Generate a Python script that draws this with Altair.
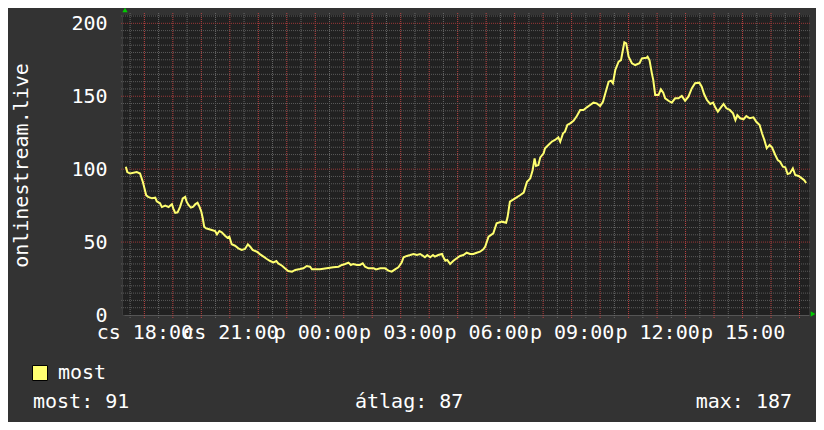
import altair as alt
import pandas as pd

# ---- data (Thu 2024-01-04 -> Fri 2024-01-05) ----
thu_times = ["17:21", "17:24", "17:30", "17:44", "17:51", "17:57", "18:04", "18:08", "18:16", "18:23",
             "18:26", "18:33", "18:37", "18:44", "18:51", "18:58", "19:01", "19:05", "19:10", "19:15",
             "19:21", "19:26", "19:29", "19:33", "19:38", "19:43", "19:47", "19:52", "19:56", "20:00",
             "20:03", "20:06", "20:10", "20:15", "20:22", "20:29", "20:33", "20:38", "20:43", "20:50",
             "20:55", "20:59", "21:04", "21:11", "21:18", "21:25", "21:32", "21:38", "21:43", "21:48",
             "21:57", "22:04", "22:11", "22:18", "22:25", "22:32", "22:38", "22:42", "22:50", "22:56",
             "23:03", "23:11", "23:18", "23:28", "23:35", "23:42", "23:49", "23:53"]
thu_values = [101.7, 98, 97, 98, 97, 91, 82, 81, 80, 80.4,
              78, 76.6, 74, 75, 74, 76, 73, 70, 70.4, 74,
              80, 81, 77.7, 75.4, 73.6, 74.3, 75.9, 77, 74.3, 70.8,
              66.3, 60.5, 59.4, 59, 58.3, 57.6, 55.3, 57.6, 56.7, 54.4,
              53, 53.7, 48.5, 47.5, 45.7, 44.6, 45.3, 48.5, 46.8, 44.6,
              43.4, 41.6, 40, 38.4, 37, 36.1, 37, 35.4, 33.8, 32,
              30.2, 29.7, 30.9, 31.5, 32, 33.6, 33.1, 31.3]

fri_times = ["00:10", "00:24", "00:38", "00:49", "00:56", "01:03", "01:10", "01:15", "01:20", "01:28",
             "01:34", "01:40", "01:45", "01:52", "02:03", "02:08", "02:17", "02:27", "02:34", "02:41",
             "02:48", "02:55", "03:02", "03:06", "03:13", "03:20", "03:27", "03:34", "03:41", "03:47",
             "03:51", "03:56", "04:02", "04:08", "04:12", "04:19", "04:27", "04:30", "04:34", "04:38",
             "04:44", "04:51", "04:58", "05:05", "05:12", "05:19", "05:26", "05:33", "05:40", "05:47",
             "05:54", "05:58", "06:05", "06:15", "06:22", "06:33", "06:42", "06:45", "06:50", "07:01",
             "07:12", "07:19", "07:26", "07:33", "07:38", "07:42", "07:45", "07:50", "07:54", "08:01",
             "08:04", "08:11", "08:18", "08:25", "08:32", "08:36", "08:42", "08:46", "08:51", "08:57",
             "09:04", "09:11", "09:18", "09:25", "09:32", "09:39", "09:46", "09:53", "10:00", "10:06",
             "10:11", "10:18", "10:23", "10:27", "10:32", "10:39", "10:44", "10:48", "10:51", "10:55",
             "11:00", "11:07", "11:14", "11:23", "11:28", "11:38", "11:40", "11:44", "11:49", "11:52",
             "11:56", "12:03", "12:08", "12:13", "12:17", "12:24", "12:31", "12:38", "12:45", "12:52",
             "12:59", "13:06", "13:13", "13:20", "13:29", "13:34", "13:39", "13:45", "13:52", "13:58",
             "14:02", "14:08", "14:13", "14:20", "14:26", "14:33", "14:40", "14:45", "14:49", "14:55",
             "15:02", "15:08", "15:15", "15:23", "15:29", "15:36", "15:41", "15:46", "15:51", "15:57",
             "16:02", "16:09", "16:14", "16:19", "16:25", "16:30", "16:35", "16:40", "16:46", "16:51",
             "16:58", "17:05", "17:10", "17:14"]
fri_values = [31.3, 32, 32.7, 33.1, 34.3, 35, 35.9, 34.3, 35, 34.3,
              34.3, 35.4, 33.1, 32, 32, 31.3, 32, 32, 30.4, 29.7,
              31.3, 32.7, 35.9, 39.6, 40.5, 41.1, 41.8, 41.1, 41.8, 40.5,
              39.6, 41.1, 39.6, 41.1, 40, 41.1, 41.8, 39.6, 37.2, 37.7,
              35, 37.2, 38.9, 40.5, 41.1, 42.7, 41.8, 41.8, 42.7, 43.4,
              45, 47, 53.7, 56, 62.9, 64, 63.3, 67, 77.7, 80,
              82.3, 83.9, 91.4, 93.7, 99.4, 107.4, 102.2, 102.8, 108.1, 110.9,
              114.3, 116.6, 118.8, 120, 121.8, 118.8, 124.6, 125.7, 130.3, 131.4,
              133.2, 136.4, 140.6, 140.6, 142.4, 144, 145.6, 145.1, 143.3, 146.2,
              152, 160, 160.7, 158.9, 168, 173.7, 174.8, 181.7, 187, 186.3,
              177.1, 172.6, 171.4, 172.6, 176, 176.4, 177.1, 174.8, 165.7, 161.1,
              150.8, 150.8, 154.7, 152.4, 148.6, 146.9, 145.6, 148.6, 148.6, 150.2,
              146.9, 149.7, 155.4, 158.9, 159.3, 156.5, 151.5, 147.4, 144.7, 145.6,
              142.8, 139.4, 141.7, 144.7, 141.7, 140.6, 138.3, 133.7, 137.1, 134.9,
              134.2, 136.4, 134.9, 135.5, 132.5, 130.3, 124.6, 120, 114.3, 116.6,
              115, 109.7, 106.3, 105.1, 101.7, 101.3, 96.7, 97.2, 100.6, 96,
              95.3, 93.7, 92.5, 90.5]

series_name = "most"
stat_names = ["most", "átlag", "max"]
stat_values = [91, 87, 187]
y_title = "onlinestream.live"
y_label_values = [0, 50, 100, 150, 200]
x_label_hours = ["2024-01-04T18:00:00", "2024-01-04T21:00:00", "2024-01-05T00:00:00",
                 "2024-01-05T03:00:00", "2024-01-05T06:00:00", "2024-01-05T09:00:00",
                 "2024-01-05T12:00:00", "2024-01-05T15:00:00"]

# ---- styling ----
FONT = "DejaVu Sans Mono"
BG = "#333333"
PLOT_BG = "#212121"
LINE = "#ffff70"
MAJOR_H = "#9a3838"
MINOR_H = "#5a5a5a"
MAJOR_V = "#c04444"
MINOR_V = "#686868"
Y_TOP = 205.7

df = pd.DataFrame({
    "time": ["2024-01-04T" + t + ":00" for t in thu_times] + ["2024-01-05T" + t + ":00" for t in fri_times],
    "value": thu_values + fri_values,
    "series": series_name,
})

# grid positions (style only)
half_hours = pd.date_range("2024-01-04 17:30", "2024-01-05 17:00", freq="30min")
grid_x = pd.DataFrame({"t": half_hours.strftime("%Y-%m-%dT%H:%M:00"),
                       "major": half_hours.minute == 0})
grid_y = pd.DataFrame({"v": list(range(5, 206, 5))})
grid_y["major"] = grid_y["v"] % 50 == 0
one = pd.DataFrame({"k": [0]})

x_start = alt.DateTime(year=2024, month=1, date=4, hours=17, minutes=15)
x_end = alt.DateTime(year=2024, month=1, date=5, hours=17, minutes=20)
x_scale = alt.Scale(domain=[x_start, x_end])
y_scale = alt.Scale(domain=[0, Y_TOP], nice=False, zero=False)

x_axis = alt.Axis(
    values=[alt.DateTime(year=int(s[0:4]), month=int(s[5:7]), date=int(s[8:10]), hours=int(s[11:13]))
            for s in x_label_hours],
    format="%H:%M",
    labelExpr="(day(datum.value) == 4 ? 'cs ' : 'p ') + datum.label",
    labelOverlap=False, labelBound=False, labelFlush=False,
    labelFont=FONT, labelFontSize=20, labelColor="white",
    labelBaseline="alphabetic", labelPadding=23, labelAngle=0,
    grid=False, ticks=False, domainColor="#555555", title=None,
)
y_axis = alt.Axis(
    values=y_label_values,
    labelFont=FONT, labelFontSize=20, labelColor="white", labelPadding=16,
    grid=False, ticks=False, domainColor="#3c3c3c", domainWidth=3,
    title=y_title, titleFont=FONT, titleFontSize=20, titleFontWeight="normal",
    titleColor="white", titleAngle=270, titleX=-102, titleY=150,
    titleAlign="center", titleBaseline="middle",
)

plot_bg = alt.Chart(one).mark_rect(color=PLOT_BG, opacity=1).encode(
    x=alt.X(datum=x_start, scale=x_scale, axis=x_axis, title=None),
    x2=alt.X2(datum=x_end),
    y=alt.Y(datum=0, scale=y_scale, axis=y_axis, title=y_title),
    y2=alt.Y2(datum=Y_TOP),
)

# grid rules, running a few pixels past the plot edges like tick marks
vgrid = alt.Chart(grid_x).mark_rule(strokeDash=[1, 1], strokeWidth=1, clip=False).encode(
    x=alt.X("t:T", title=None),
    y=alt.value(-2), y2=alt.value(303),
    color=alt.condition(alt.datum.major, alt.value(MAJOR_V), alt.value(MINOR_V)),
)
hgrid = alt.Chart(grid_y).mark_rule(strokeDash=[1, 1], strokeWidth=1, clip=False).encode(
    y=alt.Y("v:Q", title=y_title),
    x=alt.value(-2), x2=alt.value(688),
    color=alt.condition(alt.datum.major, alt.value(MAJOR_H), alt.value(MINOR_H)),
)

line = alt.Chart(df).mark_line(color=LINE, strokeWidth=2, clip=True).encode(
    x=alt.X("time:T", title=None),
    y=alt.Y("value:Q", title=y_title),
)

legend_layer = alt.Chart(df).transform_filter("false").mark_square(
    stroke="black", strokeWidth=1, opacity=1, filled=True
).encode(
    fill=alt.Fill("series:N", scale=alt.Scale(domain=[series_name], range=[LINE]),
                  legend=alt.Legend(orient="none", legendX=-93, legendY=348, title=None,
                                    symbolType="square", symbolSize=225,
                                    symbolStrokeColor="black", symbolStrokeWidth=1,
                                    labelFont=FONT, labelFontSize=20, labelColor="white",
                                    labelOffset=8, padding=0)),
)

arrow_up = alt.Chart(one).mark_point(shape="triangle-up", filled=True, color="#00cc00",
                                     size=28, opacity=1, clip=False, yOffset=-5, xOffset=2).encode(
    x=alt.X(datum=x_start, title=None), y=alt.Y(datum=Y_TOP, title=y_title))
arrow_right = alt.Chart(one).mark_point(shape="triangle-right", filled=True, color="#00cc00",
                                        size=28, opacity=1, clip=False, xOffset=4, yOffset=-1).encode(
    x=alt.X(datum=x_end, title=None), y=alt.Y(datum=0, title=y_title))

text_style = dict(font=FONT, fontSize=20, color="white", baseline="alphabetic")
stat0 = alt.Chart(one).mark_text(align="left", text=f"{stat_names[0]}: {stat_values[0]}", **text_style).encode(
    x=alt.value(-90), y=alt.value(393))
stat1 = alt.Chart(one).mark_text(align="left", text=f"{stat_names[1]}: {stat_values[1]}", **text_style).encode(
    x=alt.value(232), y=alt.value(393))
stat2 = alt.Chart(one).mark_text(align="right", text=f"{stat_names[2]}: {stat_values[2]}", **text_style).encode(
    x=alt.value(669), y=alt.value(393))

chart = alt.layer(plot_bg, vgrid, hgrid, line, legend_layer, arrow_up, arrow_right,
                  stat0, stat1, stat2).properties(
    width=686, height=300,
    autosize=alt.AutoSizeParams(type="none"),
    padding={"left": 115, "top": 7, "right": 7, "bottom": 107},
    background=BG,
).configure_view(stroke=None)

chart.save("out.html", embed_options={"renderer": "svg", "actions": False})
